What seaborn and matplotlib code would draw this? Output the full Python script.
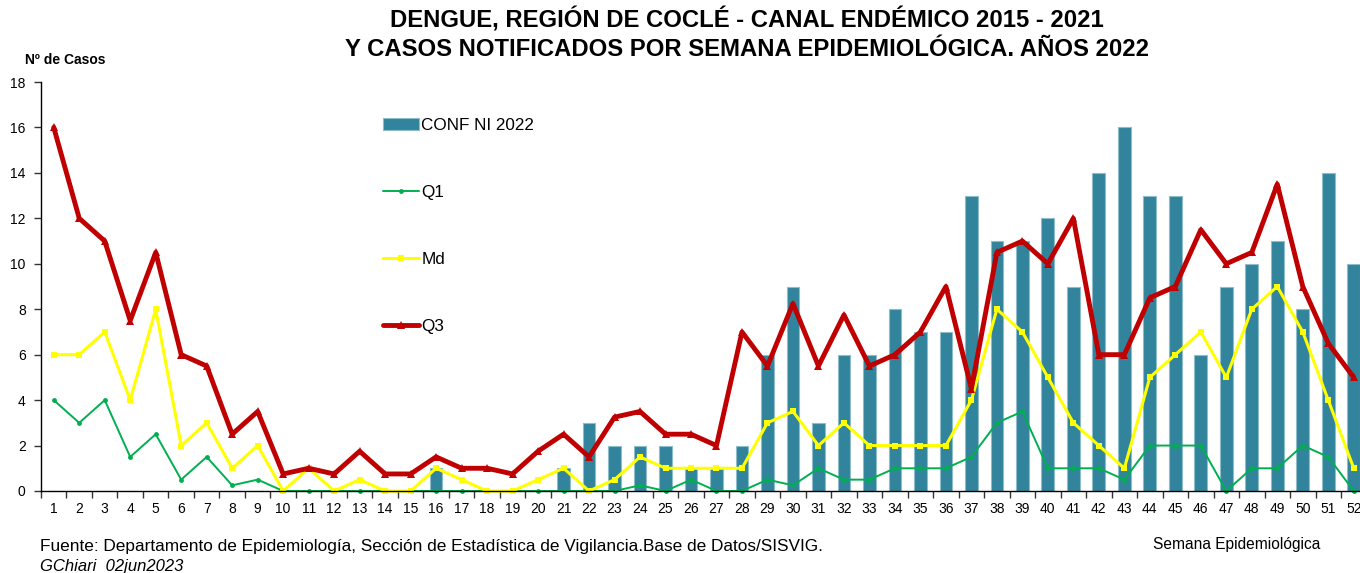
import matplotlib.pyplot as plt
import numpy as np
import seaborn as sns
from matplotlib.ticker import FixedLocator

FIGURE_DPI = 100

weeks = list(range(1, 53))
conf_2022 = [0, 0, 0, 0, 0, 0, 0, 0, 0, 0, 0, 0, 0, 0, 0, 1, 0, 0, 0, 0,
             1, 3, 2, 2, 2, 1, 1, 2, 6, 9, 3, 6, 6, 8, 7, 7, 13, 11, 11, 12,
             9, 14, 16, 13, 13, 6, 9, 10, 11, 8, 14, 10]
q1 = [4, 3, 4, 1.5, 2.5, 0.5, 1.5, 0.25, 0.5, 0, 0, 0, 0, 0, 0, 0, 0, 0, 0, 0,
      0, 0, 0, 0.25, 0, 0.5, 0, 0, 0.5, 0.25, 1, 0.5, 0.5, 1, 1, 1, 1.5, 3, 3.5, 1,
      1, 1, 0.5, 2, 2, 2, 0, 1, 1, 2, 1.5, 0]
md = [6, 6, 7, 4, 8, 2, 3, 1, 2, 0, 1, 0, 0.5, 0, 0, 1, 0.5, 0, 0, 0.5,
      1, 0, 0.5, 1.5, 1, 1, 1, 1, 3, 3.5, 2, 3, 2, 2, 2, 2, 4, 8, 7, 5,
      3, 2, 1, 5, 6, 7, 5, 8, 9, 7, 4, 1]
q3 = [16, 12, 11, 7.5, 10.5, 6, 5.5, 2.5, 3.5, 0.75, 1, 0.75, 1.75, 0.75, 0.75, 1.5, 1, 1, 0.75, 1.75,
      2.5, 1.5, 3.25, 3.5, 2.5, 2.5, 2, 7, 5.5, 8.25, 5.5, 7.75, 5.5, 6, 7, 9, 4.5, 10.5, 11, 10,
      12, 6, 6, 8.5, 9, 11.5, 10, 10.5, 13.5, 9, 6.5, 5]
y_ticks = list(range(0, 19, 2))

TITLE = ("DENGUE, REGIÓN DE COCLÉ - CANAL ENDÉMICO 2015 - 2021\n"
         "Y CASOS NOTIFICADOS POR SEMANA EPIDEMIOLÓGICA. AÑOS 2022")
SOURCE = "Fuente: Departamento de Epidemiología, Sección de Estadística de Vigilancia.Base de Datos/SISVIG."
AUTHOR = "GChiari  02jun2023"

BAR_COLOR = "#31849B"
Q1_COLOR = "#00B050"
MD_COLOR = "#FFFF00"
Q3_COLOR = "#C00000"


def main() -> None:
    sns.set_theme(style="white")
    plt.rcParams["font.family"] = ["Liberation Sans", "DejaVu Sans"]
    plt.rcParams["text.color"] = "#000000"

    fig = plt.figure(figsize=(13.6, 5.73), dpi=FIGURE_DPI)
    ax = fig.add_axes([41 / 1360, (573 - 491) / 573, 1325.5 / 1360, (491 - 82) / 573])

    sns.barplot(x=weeks, y=conf_2022, native_scale=True, width=0.5, color=BAR_COLOR,
                edgecolor="#8dbccb", linewidth=0.8, saturation=1, label="CONF NI 2022", ax=ax)
    sns.lineplot(x=weeks, y=q1, color=Q1_COLOR, marker="o", markersize=3.5, markeredgewidth=0,
                 linewidth=1.4, label="Q1", ax=ax, clip_on=False)
    sns.lineplot(x=weeks, y=md, color=MD_COLOR, marker="s", markersize=5, markeredgewidth=0,
                 linewidth=2.2, label="Md", ax=ax, clip_on=False)
    sns.lineplot(x=weeks, y=q3, color=Q3_COLOR, marker="^", markersize=6, markeredgewidth=0,
                 linewidth=3.5, label="Q3", ax=ax, clip_on=False)

    ax.set_xlim(0.5, 52.5)
    ax.set_ylim(0, 18)
    ax.set_xticks(weeks)
    ax.set_xticklabels([str(w) for w in weeks])
    ax.xaxis.set_minor_locator(FixedLocator(np.arange(0.5, 53, 1)))
    ax.set_yticks(y_ticks)
    ax.tick_params(axis="x", which="major", length=0, pad=8, labelsize=10, labelcolor="#000000")
    ax.tick_params(axis="x", which="minor", length=5, width=1, direction="out", color="#333333", bottom=True)
    ax.tick_params(axis="y", which="major", length=5, width=1, direction="out", left=True,
                   labelsize=10, labelcolor="#000000", color="#333333", pad=6)
    ax.set_xlabel("")
    ax.set_ylabel("")
    for side in ["top", "right"]:
        ax.spines[side].set_visible(False)
    for side in ["left", "bottom"]:
        ax.spines[side].set_color("#000000")
        ax.spines[side].set_linewidth(1)
    ax.grid(False)

    handles, labels = ax.get_legend_handles_labels()
    lookup = dict(zip(labels, handles))
    order = ["CONF NI 2022", "Q1", "Md", "Q3"]
    ax.legend([lookup[k] for k in order], order, loc="upper left",
              bbox_to_anchor=(383 / 1360, (573 - 118) / 573), bbox_transform=fig.transFigure,
              frameon=False, fontsize=12.3, labelspacing=3.05, handlelength=2.1,
              handletextpad=0.15, borderpad=0, borderaxespad=0)

    fig.text(747 / 1360, 1 - 34.5 / 573, TITLE, ha="center", va="center", fontsize=17.2,
             fontweight="bold", linespacing=1.3)
    fig.text(25 / 1360, 1 - 60 / 573, "Nº de Casos", ha="left", va="center", fontsize=10,
             fontweight="bold")
    fig.text(1237 / 1360, 1 - 544 / 573, "Semana Epidemiológica", ha="center", va="center",
             fontsize=11.2)
    fig.text(40 / 1360, 1 - 547 / 573, SOURCE, ha="left", va="center", fontsize=12.4)
    fig.text(40 / 1360, 1 - 566 / 573, AUTHOR, ha="left", va="center", fontsize=12, style="italic")

    fig.savefig("out.png", dpi=FIGURE_DPI)
    plt.close(fig)


if __name__ == "__main__":
    main()
